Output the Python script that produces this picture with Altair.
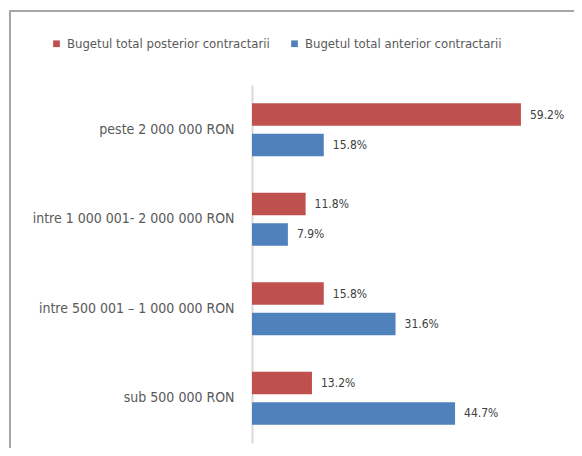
import altair as alt
import pandas as pd

categories = ["peste 2 000 000 RON", "intre 1 000 001- 2 000 000 RON",
              "intre 500 001 \u2013 1 000 000 RON", "sub 500 000 RON"]
series = ["Bugetul total posterior contractarii", "Bugetul total anterior contractarii"]
posterior = [59.2, 11.8, 15.8, 13.2]
anterior = [15.8, 7.9, 31.6, 44.7]
colors = ["#c0504d", "#4f81bd"]

rows = []
for c, p, a in zip(categories, posterior, anterior):
    rows.append({"cat": c, "serie": series[0], "val": p, "lbl": f"{p:.1f}%"})
    rows.append({"cat": c, "serie": series[1], "val": a, "lbl": f"{a:.1f}%"})
df = pd.DataFrame(rows)

FONT = "DejaVu Sans Condensed, sans-serif"

y_enc = alt.Y("cat:N", sort=categories,
              scale=alt.Scale(paddingInner=0.41, paddingOuter=0.205),
              axis=alt.Axis(title=None, ticks=False, labelPadding=18, labelFont=FONT,
                            labelFontSize=14, labelColor="#595959", domainColor="#d9d9d9",
                            domainWidth=2, labelLimit=300))
yoff = alt.YOffset("serie:N", sort=series, scale=alt.Scale(paddingInner=0.26, paddingOuter=0))
x_enc = alt.X("val:Q", scale=alt.Scale(domain=[0, 70]), axis=None)

bars = alt.Chart(df).mark_bar().encode(
    y=y_enc, yOffset=yoff, x=x_enc,
    color=alt.Color("serie:N", sort=series,
                    scale=alt.Scale(domain=series, range=colors),
                    legend=alt.Legend(title=None, orient="none", direction="horizontal",
                                      legendX=-202, legendY=-48, symbolType="square",
                                      symbolSize=45, symbolStrokeWidth=0, labelFont=FONT,
                                      labelFontSize=13, labelColor="#595959",
                                      columnPadding=18, labelLimit=400)),
)

labels = alt.Chart(df).mark_text(align="left", baseline="middle", dx=9, font=FONT,
                                 fontSize=12, color="#404040").encode(
    y=alt.Y("cat:N", sort=categories), yOffset=alt.YOffset("serie:N", sort=series),
    x="val:Q", text="lbl:N")

border = alt.Chart(pd.DataFrame({"a": [0]})).mark_rect(
    fill=None, stroke="#a6a6a6", strokeWidth=2).encode(
    x=alt.value(-242), x2=alt.value(400), y=alt.value(-74), y2=alt.value(500))

chart = alt.layer(border, bars, labels).properties(
    width=318, height=358,
    padding={"left": 244, "top": 77, "right": 4, "bottom": 5},
    autosize=alt.AutoSizeParams(type="none"),
    background="white",
).configure_view(stroke=None)

chart.save("out.html", embed_options={"renderer": "svg", "actions": False})
